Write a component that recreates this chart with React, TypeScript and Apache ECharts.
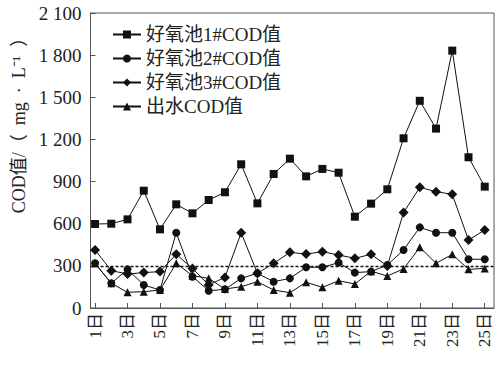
import React, { useEffect, useRef } from "react";
import * as echarts from "echarts";

const days = [1, 2, 3, 4, 5, 6, 7, 8, 9, 10, 11, 12, 13, 14, 15, 16, 17, 18, 19, 20, 21, 22, 23, 24, 25];
const tickDays = [1, 3, 5, 7, 9, 11, 13, 15, 17, 19, 21, 23, 25];
const yTicks = [0, 300, 600, 900, 1200, 1500, 1800, 2100];

const seriesNames = ["好氧池1#COD值", "好氧池2#COD值", "好氧池3#COD值", "出水COD值"];

const pool1 = [598, 600, 631, 835, 560, 738, 674, 769, 824, 1023, 745, 954, 1063, 937, 990, 963, 650, 743, 845, 1208, 1475, 1277, 1832, 1073, 864];
const pool2 = [318, 176, 275, 164, 128, 536, 223, 123, 133, 211, 247, 187, 211, 290, 290, 323, 252, 259, 306, 413, 574, 536, 536, 347, 347];
const pool3 = [413, 266, 242, 252, 259, 382, 282, 164, 218, 536, 247, 318, 396, 384, 401, 377, 354, 382, 299, 679, 859, 828, 809, 484, 555];
const effluent = [318, 176, 112, 116, 128, 318, 230, 211, 135, 152, 187, 128, 109, 183, 147, 194, 171, 262, 228, 278, 432, 318, 382, 275, 282];
const standardLine = 300;

const symbols = ["rect", "circle", "diamond", "triangle"];
const symbolSizes = [8, 8, 10, 8];
const seriesData = [pool1, pool2, pool3, effluent];

const FONT = "'Liberation Serif', 'Noto Sans CJK SC', serif";

export default function App() {
  const ref = useRef<HTMLDivElement>(null);
  useEffect(() => {
    if (!ref.current) return;
    const chart = echarts.init(ref.current, null, { renderer: "svg" });
    const series: any[] = seriesData.map((vals, i) => ({
      name: seriesNames[i],
      type: "line",
      data: days.map((d, j) => [d, vals[j]]),
      symbol: symbols[i],
      symbolSize: symbolSizes[i],
      showAllSymbol: true,
      lineStyle: { color: "#111", width: 1 },
      itemStyle: { color: "#111" },
      z: 3 + i,
    }));
    series[0].markLine = {
      silent: true,
      symbol: "none",
      label: { show: false },
      lineStyle: { color: "#111", type: [3, 2], width: 1.3 },
      data: [{ yAxis: standardLine }],
    };
    chart.setOption({
      animation: false,
      backgroundColor: "#fff",
      textStyle: { fontFamily: FONT },
      grid: {
        left: 90.5,
        right: 6,
        top: 13,
        bottom: 62,
        outerBoundsMode: "none",
        containLabel: false,
        show: true,
        borderColor: "#555",
        borderWidth: 1,
      },
      legend: {
        orient: "vertical",
        left: 112,
        top: 25,
        padding: 0,
        itemWidth: 28,
        itemHeight: 10,
        itemGap: 5,
        textStyle: { fontSize: 19, color: "#222", fontFamily: FONT },
        data: seriesNames,
      },
      graphic: [
        {
          type: "text",
          x: 19,
          y: 121,
          rotation: Math.PI / 2,
          style: {
            text: "COD值/（\u2002mg\u2002·\u2002L⁻¹\u2002）",
            font: "18px 'Liberation Serif', 'Noto Sans CJK SC', serif",
            fill: "#222",
            align: "center",
            verticalAlign: "middle",
          },
        },
      ],
      xAxis: {
        type: "value",
        min: 0.72,
        max: 25.57,
        splitLine: { show: false },
        axisLine: { lineStyle: { color: "#555" } },
        axisTick: { inside: true, length: 5, customValues: tickDays, lineStyle: { color: "#555" } },
        axisLabel: {
          customValues: tickDays,
          rotate: 90,
          fontSize: 17,
          color: "#222",
          margin: 5,
          fontFamily: FONT,
          formatter: (v: number) => `${v}日`,
        },
      },
      yAxis: {
        type: "value",
        min: 0,
        max: 2100,
        interval: 300,
        splitLine: { show: false },
        axisLine: { show: true, lineStyle: { color: "#555" } },
        axisTick: { inside: true, length: 5, lineStyle: { color: "#555" } },
        axisLabel: {
          fontSize: 19,
          color: "#222",
          margin: 9,
          fontFamily: FONT,
          formatter: (v: number) => {
            if (!yTicks.includes(v)) return "";
            return v >= 1000 ? `${Math.floor(v / 1000)} ${String(v % 1000).padStart(3, "0")}` : `${v}`;
          },
        },
      },
      series,
    });
    return () => chart.dispose();
  }, []);
  return <div ref={ref} style={{ position: "absolute", left: 0, top: 0, width: 500, height: 370 }} />;
}
